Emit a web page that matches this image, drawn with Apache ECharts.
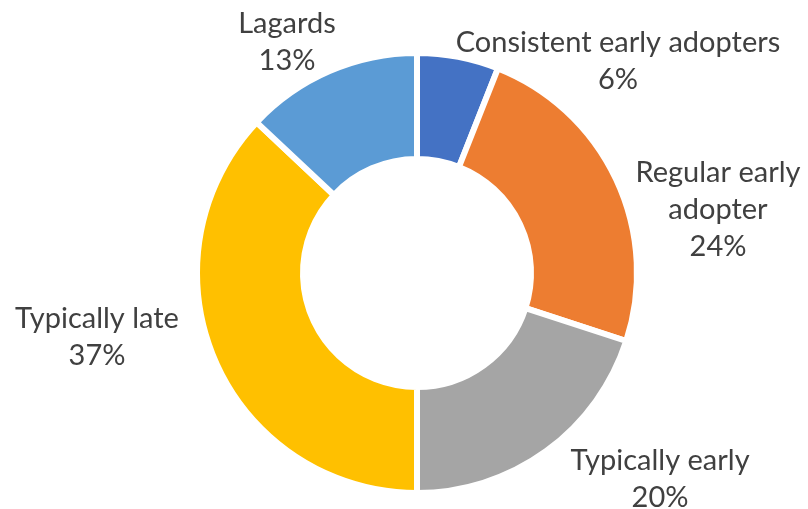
<!DOCTYPE html>
<html>
<head>
<meta charset="utf-8">
<script src="https://cdn.jsdelivr.net/npm/echarts@6/dist/echarts.min.js"></script>
<style>
html, body { margin: 0; padding: 0; background: #fff; }
#container { width: 808px; height: 509px; }
</style>
</head>
<body>
<div id="container"></div>
<script>
var categories = ['Consistent early adopters', 'Regular early adopter', 'Typically early', 'Typically late', 'Lagards'];
var labelNames = ['Consistent early adopters', 'Regular early\nadopter', 'Typically early', 'Typically late', 'Lagards'];
var values = [6, 24, 20, 37, 13];
var colors = ['#4472C4', '#ED7D31', '#A5A5A5', '#FFC000', '#5B9BD5'];
// label centres
var labelPos = [[618, 61], [718, 210], [660, 479], [97, 337], [287, 42]];

var ValuesArray = [];
for (var j = 0; j < categories.length; j++) {
    ValuesArray.push({
        name: categories[j],
        value: values[j],
        label: { formatter: labelNames[j] + '\n' + values[j] + '%' },
        itemStyle: { color: colors[j] }
    });
}

var dom = document.getElementById("container");
var myChart = echarts.init(dom, null, { renderer: 'canvas' });
var option = {
    backgroundColor: '#ffffff',
    animation: false,
    series: [{
        type: 'pie',
        center: [417, 273],
        radius: [114, 220],
        startAngle: 90,
        clockwise: true,
        avoidLabelOverlap: false,
        itemStyle: {
            borderColor: '#ffffff',
            borderWidth: 6
        },
        label: {
            show: true,
            position: 'outside',
            color: '#404040',
            fontFamily: 'Lato',
            fontSize: 29,
            lineHeight: 37,
            align: 'center'
        },
        labelLine: { show: false },
        labelLayout: function (params) {
            var p = labelPos[params.dataIndex];
            return { x: p[0], y: p[1], align: 'center', verticalAlign: 'middle' };
        },
        data: ValuesArray
    }]
};
myChart.setOption(option, true);
</script>
</body>
</html>
